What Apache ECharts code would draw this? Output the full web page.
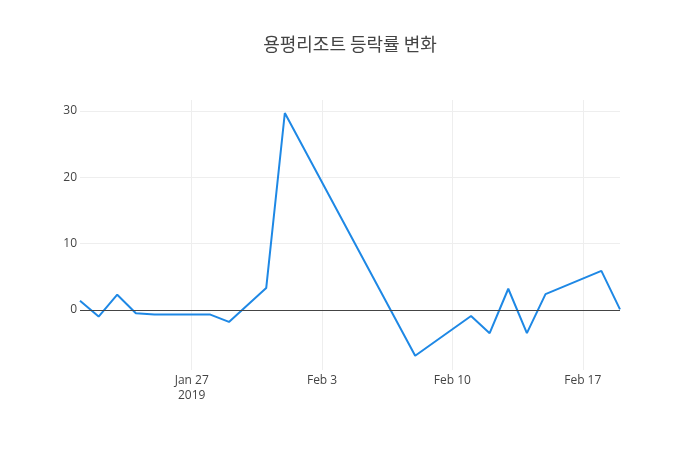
<!DOCTYPE html>
<html>
<head>
<meta charset="utf-8">
<script src="https://cdn.jsdelivr.net/npm/echarts@6/dist/echarts.min.js"></script>
<style>
  html, body { margin: 0; padding: 0; background: #fff; }
  #chart { width: 700px; height: 450px; }
</style>
</head>
<body>
<div id="chart"></div>
<script>
  // 거래일 (2019)
  const dates = ['2019-01-21', '2019-01-22', '2019-01-23', '2019-01-24', '2019-01-25',
    '2019-01-28', '2019-01-29', '2019-01-31', '2019-02-01', '2019-02-08',
    '2019-02-11', '2019-02-12', '2019-02-13', '2019-02-14', '2019-02-15',
    '2019-02-18', '2019-02-19'];
  // 등락률 (%)
  const rates = [1.4, -1.0, 2.3, -0.5, -0.7, -0.7, -1.8, 3.3, 29.7, -6.9,
    -0.9, -3.5, 3.2, -3.5, 2.4, 5.9, 0.1];
  const tickDates = ['2019-01-27', '2019-02-03', '2019-02-10', '2019-02-17'];
  const tickLabels = ['Jan 27\n2019', 'Feb 3', 'Feb 10', 'Feb 17'];
  const yTicks = [0, 10, 20, 30];

  function ts(s) {
    const p = s.split('-');
    return new Date(+p[0], +p[1] - 1, +p[2]).getTime();
  }

  const tickValues = tickDates.map(ts);
  const seriesData = dates.map((d, i) => [ts(d), rates[i]]);

  let eChart = echarts.init(document.getElementById('chart'));
  let option = {
    animation: false,
    title: {
      text: '용평리조트 등락률 변화',
      left: 'center',
      top: 30,
      textStyle: {
        fontFamily: 'Noto Sans CJK KR',
        fontSize: 18,
        fontWeight: 'normal',
        color: '#444'
      }
    },
    grid: {
      left: 80,
      right: 80,
      top: 100,
      bottom: 80
    },
    xAxis: {
      // 날짜 타임스탬프를 값 축으로 사용 (주 단위 일요일 눈금)
      type: 'value',
      min: ts('2019-01-21'),
      max: ts('2019-02-19'),
      axisLine: { show: false },
      axisTick: { show: false, customValues: tickValues },
      splitLine: { show: true, lineStyle: { color: '#eee', width: 1 } },
      axisLabel: {
        customValues: tickValues,
        margin: 3,
        lineHeight: 15,
        color: '#444',
        fontFamily: 'Open Sans',
        fontSize: 12,
        formatter: function (value) {
          const i = tickValues.indexOf(value);
          return i >= 0 ? tickLabels[i] : '';
        }
      }
    },
    yAxis: {
      type: 'value',
      min: -9.05,
      max: 31.66,
      axisLine: { show: false },
      axisTick: { show: false, customValues: yTicks },
      splitLine: { lineStyle: { color: '#eee', width: 1 } },
      axisLabel: {
        customValues: yTicks,
        margin: 3,
        color: '#444',
        fontFamily: 'Open Sans',
        fontSize: 12
      }
    },
    series: [
      {
        name: '등락률',
        type: 'line',
        data: seriesData,
        showSymbol: false,
        lineStyle: { color: '#1e88e5', width: 2 },
        itemStyle: { color: '#1e88e5' },
        markLine: {
          silent: true,
          symbol: ['none', 'none'],
          label: { show: false },
          lineStyle: { color: '#444', width: 1, type: 'solid' },
          data: [{ yAxis: 0 }]
        }
      }
    ]
  };
  eChart.setOption(option);
</script>
</body>
</html>
